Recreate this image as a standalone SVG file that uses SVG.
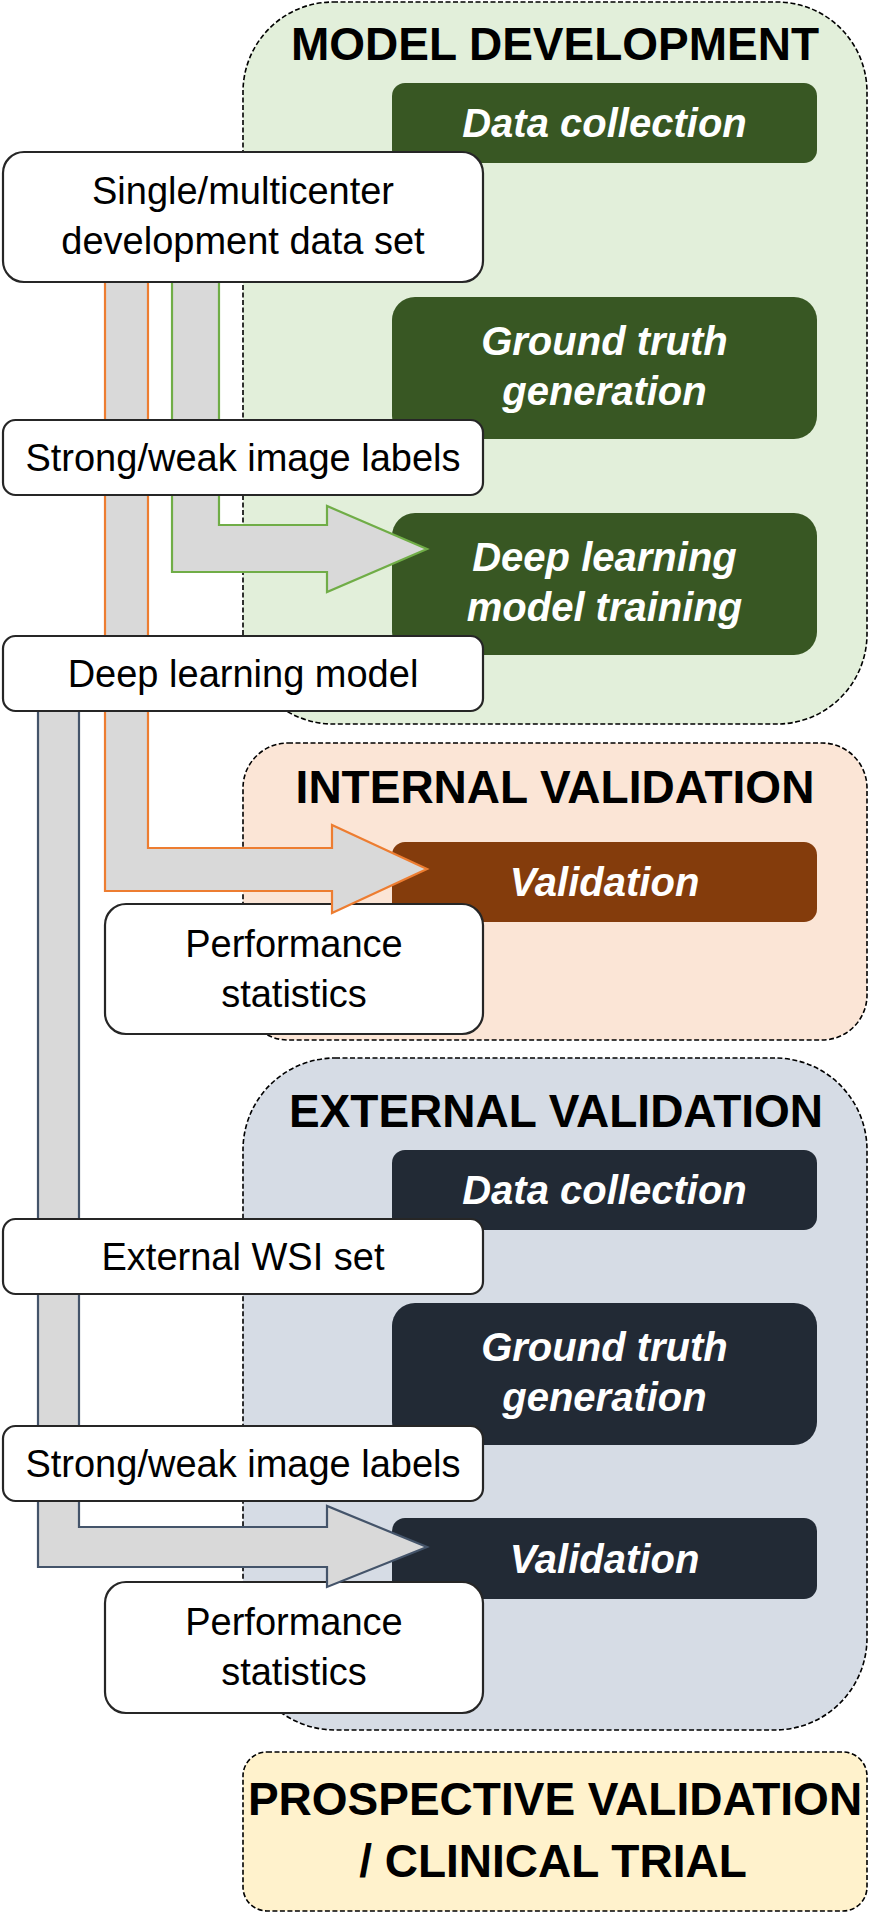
<svg xmlns="http://www.w3.org/2000/svg" width="873" height="1918" viewBox="0 0 873 1918">
<style>
.panel{stroke:#000;stroke-width:1.6;stroke-dasharray:5 2.5}
.title{font-family:"Liberation Sans",Arial,sans-serif;font-weight:bold;font-size:46px;fill:#000;text-anchor:middle}
.dark{stroke:none}
.dtext{font-family:"Liberation Sans",Arial,sans-serif;font-weight:bold;font-style:italic;font-size:40px;fill:#fff;text-anchor:middle}
.wbox{fill:#fff;stroke:#262626;stroke-width:2.2}
.wtext{font-family:"Liberation Sans",Arial,sans-serif;font-size:38px;fill:#000;text-anchor:middle}
.arrow{fill:#D9D9D9;stroke-width:2.2;stroke-linejoin:miter}
</style>
<rect width="873" height="1918" fill="#fff"/>

<g id="panel-model-development">
<rect class="panel" x="243" y="2" width="624" height="722" rx="90" ry="90" fill="#E2EFDA"/>
<text class="title" x="555" y="60">MODEL DEVELOPMENT</text>
</g>
<g id="panel-internal-validation">
<rect class="panel" x="243" y="743" width="624" height="297" rx="45" ry="45" fill="#FBE5D6"/>
<text class="title" x="555" y="803">INTERNAL VALIDATION</text>
</g>
<g id="panel-external-validation">
<rect class="panel" x="243" y="1058" width="624" height="672" rx="92" ry="92" fill="#D6DCE5"/>
<text class="title" x="556" y="1127">EXTERNAL VALIDATION</text>
</g>
<g id="panel-prospective">
<rect class="panel" x="243" y="1752" width="624" height="159" rx="24" ry="24" fill="#FFF2CC"/>
<text class="title" x="555" y="1815" font-size="45">PROSPECTIVE VALIDATION</text>
<text class="title" x="553" y="1877" font-size="45">/ CLINICAL TRIAL</text>
</g>

<g id="md-data-collection">
<rect class="dark" x="392" y="83" width="425" height="80" rx="13" fill="#385723"/>
<text class="dtext" x="604.5" y="137">Data collection</text>
</g>
<g id="md-ground-truth">
<rect class="dark" x="392" y="297" width="425" height="142" rx="23" fill="#385723"/>
<text class="dtext" x="604.5" y="355">Ground truth</text>
<text class="dtext" x="604.5" y="405">generation</text>
</g>
<g id="md-training">
<rect class="dark" x="392" y="513" width="425" height="142" rx="23" fill="#385723"/>
<text class="dtext" x="604.5" y="571">Deep learning</text>
<text class="dtext" x="604.5" y="621">model training</text>
</g>
<g id="iv-validation">
<rect class="dark" x="392" y="842" width="425" height="80" rx="13" fill="#843C0C"/>
<text class="dtext" x="604.5" y="896">Validation</text>
</g>
<g id="ev-data-collection">
<rect class="dark" x="392" y="1150" width="425" height="80" rx="13" fill="#222A35"/>
<text class="dtext" x="604.5" y="1204">Data collection</text>
</g>
<g id="ev-ground-truth">
<rect class="dark" x="392" y="1303" width="425" height="142" rx="23" fill="#222A35"/>
<text class="dtext" x="604.5" y="1361">Ground truth</text>
<text class="dtext" x="604.5" y="1411">generation</text>
</g>
<g id="ev-validation">
<rect class="dark" x="392" y="1518" width="425" height="81" rx="13" fill="#222A35"/>
<text class="dtext" x="604.5" y="1573">Validation</text>
</g>

<g id="iv-performance">
<rect class="wbox" x="105" y="904" width="378" height="130" rx="21"/>
<text class="wtext" x="294" y="957">Performance</text>
<text class="wtext" x="294" y="1007">statistics</text>
</g>
<g id="ev-performance">
<rect class="wbox" x="105" y="1582" width="378" height="131" rx="21"/>
<text class="wtext" x="294" y="1635">Performance</text>
<text class="wtext" x="294" y="1685">statistics</text>
</g>

<g id="connectors">
<polygon class="arrow" stroke="#70AD47" points="172,270 219,270 219,525 327,525 327,506 427,549 327,592 327,572 172,572"/>
<polygon class="arrow" stroke="#ED7D31" points="105,270 148,270 148,848 332,848 332,825 427,869 332,913 332,891 105,891"/>
<polygon class="arrow" stroke="#44546A" points="38,700 79,700 79,1527 327,1527 327,1506 427,1547 327,1587 327,1567 38,1567"/>
</g>

<g id="dev-data-set">
<rect class="wbox" x="3" y="152" width="480" height="130" rx="21"/>
<text class="wtext" x="243" y="204">Single/multicenter</text>
<text class="wtext" x="243" y="254">development data set</text>
</g>
<g id="dev-labels">
<rect class="wbox" x="3" y="420" width="480" height="75" rx="12.5"/>
<text class="wtext" x="243" y="471">Strong/weak image labels</text>
</g>
<g id="dl-model">
<rect class="wbox" x="3" y="636" width="480" height="75" rx="12.5"/>
<text class="wtext" x="243" y="687">Deep learning model</text>
</g>
<g id="ext-wsi">
<rect class="wbox" x="3" y="1219" width="480" height="75" rx="12.5"/>
<text class="wtext" x="243" y="1270">External WSI set</text>
</g>
<g id="ext-labels">
<rect class="wbox" x="3" y="1426" width="480" height="75" rx="12.5"/>
<text class="wtext" x="243" y="1477">Strong/weak image labels</text>
</g>
</svg>
